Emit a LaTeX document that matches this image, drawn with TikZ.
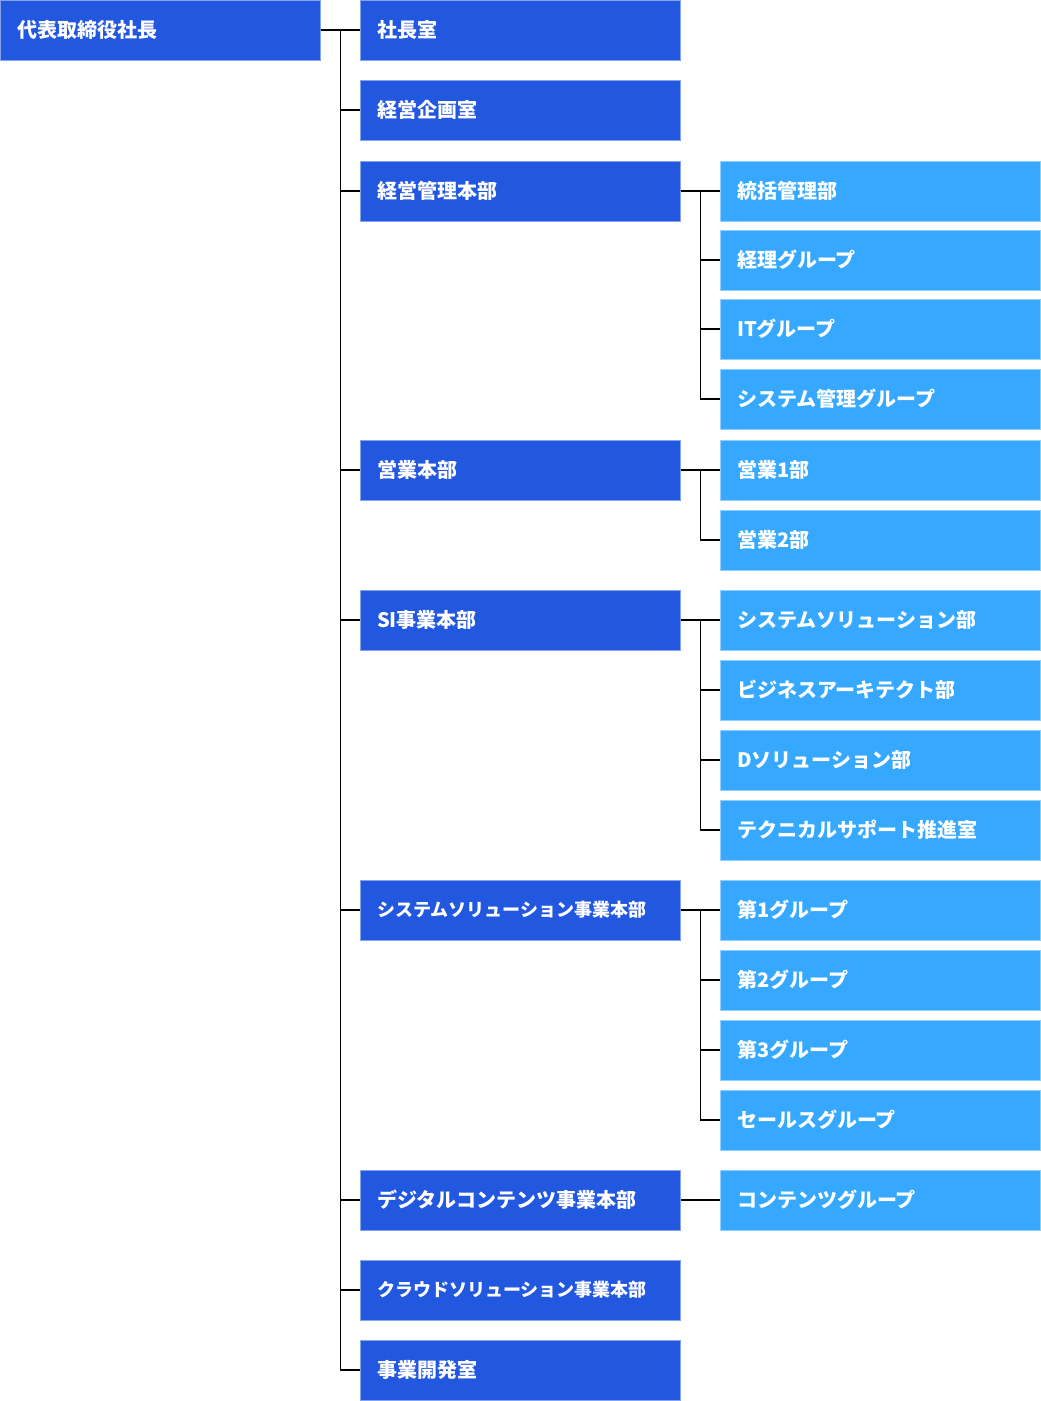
\documentclass[tikz,border=0pt]{standalone}
\usepackage{fontspec}
\setmainfont{Noto Sans CJK JP}
\usetikzlibrary{positioning}
\definecolor{headblue}{HTML}{2257DF}
\definecolor{unitblue}{HTML}{36A8FF}
\newcommand\longtext{\fontsize{18}{22}\selectfont}
\tikzset{box node/.style={
	rectangle,
	text=white,
	font=\bfseries\fontsize{20}{24}\selectfont,
	text width=286pt,
	align=left,
	inner xsep=17pt,
	inner ysep=0pt,
	minimum height=60pt,
	line width=1pt,
}}
\tikzset{
	head node/.style={box node, fill=headblue, draw=headblue!55!white},
	unit node/.style={box node, fill=unitblue, draw=unitblue!55!white},
	tree line/.style={draw, black, line width=1.2pt},
}

\begin{document}
\begin{tikzpicture}[x=1pt,y=-1pt]
\useasboundingbox (0,0) rectangle (1041,1401);

\node[head node](root) at(160,30) {代表取締役社長};

\foreach[count=\i] \y/\t in {
	30/社長室
	,110/経営企画室
	,191/経営管理本部
	,470/営業本部
	,620/SI事業本部
	,910/\longtext システムソリューション事業本部
	,1200/デジタルコンテンツ事業本部
	,1290/\longtext クラウドソリューション事業本部
	,1370/事業開発室
}{
	\node[head node](b\i) at(520,\y) {\t};
	\draw[tree line] (root.east) -- ++(20,0) |- (b\i.west);
}

\foreach[count=\i] \p/\y/\t in {
	3/191/統括管理部
	,3/260/経理グループ
	,3/329/ITグループ
	,3/399/システム管理グループ
	,4/470/営業1部
	,4/540/営業2部
	,5/620/システムソリューション部
	,5/690/ビジネスアーキテクト部
	,5/760/Dソリューション部
	,5/830/テクニカルサポート推進室
	,6/910/第1グループ
	,6/980/第2グループ
	,6/1050/第3グループ
	,6/1120/セールスグループ
	,7/1200/コンテンツグループ
}{
	\node[unit node](c\i) at(880,\y) {\t};
	\draw[tree line] (b\p.east) -- ++(20,0) |- (c\i.west);
}
\end{tikzpicture}
\end{document}
